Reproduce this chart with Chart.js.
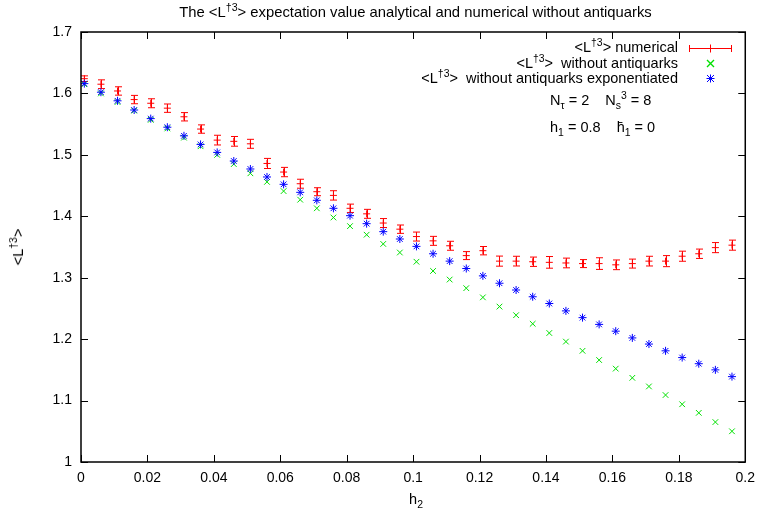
<!DOCTYPE html>
<html>
<head>
<meta charset="utf-8">
<title>Polyakov loop expectation value</title>
<script src="https://cdn.jsdelivr.net/npm/chart.js@4/dist/chart.umd.min.js"></script>
<style>
  body { margin: 0; background: #fff; }
  #wrap { position: relative; width: 763px; height: 513px; font-family: "Liberation Sans", Arial, sans-serif; color: #000; }
  #wrap canvas { position: absolute; left: 0; top: 0; }
  .txt { position: absolute; white-space: nowrap; line-height: 16px; }
  .sup { font-size: 0.72em; position: relative; top: -0.55em; }
  .sub { font-size: 0.72em; position: relative; top: 0.35em; }
  #title { left: 81px; width: 669px; top: 4px; text-align: center; font-size: 14.8px; }
  .leg { right: 85px; font-size: 14.5px; text-align: right; }
  .note { left: 550px; font-size: 14.5px; }
  #ylabel { left: 19px; top: 247px; font-size: 14.5px; transform: translate(-50%, -50%) rotate(-90deg); }
  #xlabel { left: 416px; top: 491px; font-size: 14.5px; transform: translateX(-50%); }
</style>
</head>
<body>
<div id="wrap">
  <canvas id="myChart" width="763" height="513"></canvas>
  <div class="txt" id="title">The &lt;L<span class="sup">&dagger;3</span>&gt; expectation value analytical and numerical without antiquarks</div>
  <div class="txt leg" style="top:39px">&lt;L<span class="sup">&dagger;3</span>&gt; numerical</div>
  <div class="txt leg" style="top:55px">&lt;L<span class="sup">&dagger;3</span>&gt;&nbsp; without antiquarks</div>
  <div class="txt leg" style="top:70px">&lt;L<span class="sup">&dagger;3</span>&gt;&nbsp; without antiquarks exponentiated</div>
  <div class="txt note" style="top:92px">N<span class="sub">&tau;</span> = 2&nbsp;&nbsp;&nbsp; N<span class="sub">s</span><span class="sup">3</span> = 8</div>
  <div class="txt note" style="top:119px">h<span class="sub">1</span> = 0.8&nbsp;&nbsp;&nbsp; h&#772;<span class="sub">1</span> = 0</div>
  <div class="txt" id="ylabel">&lt;L<span class="sup">&dagger;3</span>&gt;</div>
  <div class="txt" id="xlabel">h<span class="sub">2</span></div>
</div>
<script>
'use strict';

// h2 values of the simulation runs
const h2 = [
  0.001, 0.006, 0.011, 0.016, 0.021, 0.026, 0.031, 0.036, 0.041, 0.046,
  0.051, 0.056, 0.061, 0.066, 0.071, 0.076, 0.081, 0.086, 0.091, 0.096,
  0.101, 0.106, 0.111, 0.116, 0.121, 0.126, 0.131, 0.136, 0.141, 0.146,
  0.151, 0.156, 0.161, 0.166, 0.171, 0.176, 0.181, 0.186, 0.191, 0.196
];

// <L^t3> from the simulation, with statistical errors
const numerical = [
  1.624, 1.615, 1.604, 1.590, 1.584, 1.576, 1.562, 1.542, 1.524, 1.522,
  1.518, 1.486, 1.472, 1.453, 1.440, 1.434, 1.413, 1.404, 1.389, 1.379,
  1.367, 1.360, 1.352, 1.336, 1.344, 1.327, 1.327, 1.326, 1.325, 1.324,
  1.323, 1.323, 1.321, 1.323, 1.327, 1.327, 1.335, 1.339, 1.349, 1.353
];
const numericalErr = [
  0.0046, 0.0071, 0.0068, 0.0068, 0.0073, 0.0068, 0.0068, 0.0068, 0.0079, 0.0079,
  0.0073, 0.0082, 0.0076, 0.0073, 0.0065, 0.0076, 0.0068, 0.0073, 0.0073, 0.0068,
  0.0073, 0.0073, 0.0073, 0.0065, 0.0068, 0.0082, 0.0079, 0.0076, 0.0095, 0.0079,
  0.0065, 0.0095, 0.0079, 0.0073, 0.0079, 0.0090, 0.0082, 0.0076, 0.0082, 0.0082
];

// analytical result without antiquarks
const noAntiquarks = [
  1.615, 1.600, 1.586, 1.572, 1.557, 1.543, 1.528, 1.514, 1.500, 1.485,
  1.470, 1.456, 1.441, 1.427, 1.413, 1.398, 1.384, 1.370, 1.355, 1.341,
  1.326, 1.311, 1.297, 1.283, 1.268, 1.253, 1.239, 1.225, 1.210, 1.196,
  1.181, 1.166, 1.152, 1.137, 1.123, 1.109, 1.094, 1.080, 1.065, 1.050
];

// same, exponentiated
const noAntiquarksExp = [
  1.616, 1.602, 1.588, 1.573, 1.559, 1.545, 1.531, 1.517, 1.504, 1.490,
  1.477, 1.464, 1.452, 1.439, 1.426, 1.413, 1.401, 1.388, 1.375, 1.363,
  1.351, 1.339, 1.327, 1.315, 1.303, 1.291, 1.280, 1.269, 1.258, 1.246,
  1.235, 1.224, 1.213, 1.202, 1.192, 1.181, 1.170, 1.160, 1.150, 1.139
];

const xTickValues = [0, 0.02, 0.04, 0.06, 0.08, 0.1, 0.12, 0.14, 0.16, 0.18, 0.2];
const xTickLabels = ['0', '0.02', '0.04', '0.06', '0.08', '0.1', '0.12', '0.14', '0.16', '0.18', '0.2'];
const yTickValues = [1, 1.1, 1.2, 1.3, 1.4, 1.5, 1.6, 1.7];
const yTickLabels = ['1', '1.1', '1.2', '1.3', '1.4', '1.5', '1.6', '1.7'];

const RED = '#ff0000';
const GREEN = '#00e000';
const BLUE = '#0000ff';
const tickFont = { family: '"Liberation Sans", Arial, sans-serif', size: 14 };

function toPoints(ys) {
  return ys.map((y, i) => ({ x: h2[i], y: y }));
}

// vertical error bars with small caps, drawn under the markers
const errorBars = {
  id: 'errorBars',
  beforeDatasetsDraw(chart) {
    const c = chart.ctx;
    const xs = chart.scales.x;
    const ys = chart.scales.y;
    c.save();
    c.strokeStyle = RED;
    c.lineWidth = 1;
    for (let i = 0; i < h2.length; i++) {
      let px = Math.round(xs.getPixelForValue(h2[i])) + 0.5;
      let top = ys.getPixelForValue(numerical[i] + numericalErr[i]);
      let bot = ys.getPixelForValue(numerical[i] - numericalErr[i]);
      c.beginPath();
      c.moveTo(px, top); c.lineTo(px, bot);
      c.moveTo(px - 3.5, top); c.lineTo(px + 3.5, top);
      c.moveTo(px - 3.5, bot); c.lineTo(px + 3.5, bot);
      c.stroke();
    }
    c.restore();
  }
};

// key sample markers
function keyMark(c, style, color, x, y) {
  c.strokeStyle = color;
  c.lineWidth = style === 'x' ? 1.4 : 1;
  c.beginPath();
  if (style === 'plus' || style === 'star') {
    c.moveTo(x - 4, y); c.lineTo(x + 4, y);
    c.moveTo(x, y - 4); c.lineTo(x, y + 4);
  }
  if (style === 'x' || style === 'star') {
    c.moveTo(x - 3.5, y - 3.5); c.lineTo(x + 3.5, y + 3.5);
    c.moveTo(x - 3.5, y + 3.5); c.lineTo(x + 3.5, y - 3.5);
  }
  c.stroke();
}

// border box with inward ticks on all four sides, plus the key samples
const frame = {
  id: 'frame',
  afterDraw(chart) {
    const c = chart.ctx;
    const a = chart.chartArea;
    const xs = chart.scales.x;
    const ys = chart.scales.y;
    const len = 7;
    c.save();
    c.strokeStyle = '#000';
    c.lineWidth = 1;
    c.beginPath();
    xTickValues.forEach(v => {
      let px = Math.round(xs.getPixelForValue(v)) + 0.5;
      c.moveTo(px, a.bottom); c.lineTo(px, a.bottom - len);
      c.moveTo(px, a.top); c.lineTo(px, a.top + len);
    });
    yTickValues.forEach(v => {
      let py = Math.round(ys.getPixelForValue(v)) + 0.5;
      c.moveTo(a.left, py); c.lineTo(a.left + len, py);
      c.moveTo(a.right, py); c.lineTo(a.right - len, py);
    });
    c.stroke();
    c.lineWidth = 1.5;
    c.strokeRect(a.left, a.top, a.right - a.left, a.bottom - a.top);

    c.lineWidth = 1;
    c.strokeStyle = RED;
    c.beginPath();
    c.moveTo(689, 48.5); c.lineTo(732, 48.5);
    c.moveTo(689.5, 45); c.lineTo(689.5, 52);
    c.moveTo(731.5, 45); c.lineTo(731.5, 52);
    c.stroke();
    keyMark(c, 'plus', RED, 710.5, 48.5);
    keyMark(c, 'x', GREEN, 710.5, 63.5);
    keyMark(c, 'star', BLUE, 710.5, 78.5);
    c.restore();
  }
};

const ctx = document.getElementById('myChart').getContext('2d');

const myChart = new Chart(ctx, {
  type: 'scatter',
  data: {
    datasets: [{
      label: 'numerical',
      data: toPoints(numerical),
      pointStyle: 'cross',
      pointRadius: 3.5,
      borderColor: RED,
      backgroundColor: RED,
      borderWidth: 1,
      order: 2
    },
    {
      label: 'without antiquarks',
      data: toPoints(noAntiquarks),
      pointStyle: 'crossRot',
      pointRadius: 4,
      borderColor: GREEN,
      backgroundColor: GREEN,
      borderWidth: 1,
      order: 1
    },
    {
      label: 'without antiquarks exponentiated',
      data: toPoints(noAntiquarksExp),
      pointStyle: 'star',
      pointRadius: 4,
      borderColor: BLUE,
      backgroundColor: BLUE,
      borderWidth: 1,
      order: 0
    }]
  },
  options: {
    responsive: false,
    animation: false,
    devicePixelRatio: 1,
    layout: { padding: { top: 32, right: 13, left: 0, bottom: 0 } },
    plugins: {
      legend: { display: false },
      tooltip: { enabled: false },
      title: { display: false }
    },
    scales: {
      x: {
        type: 'linear',
        min: 0,
        max: 0.2,
        afterBuildTicks(scale) { scale.ticks = xTickValues.map(v => ({ value: v })); },
        afterFit(scale) { scale.height = 51; },
        grid: { display: false, drawTicks: false },
        border: { display: false },
        ticks: {
          color: '#000',
          font: tickFont,
          padding: 8,
          maxRotation: 0,
          autoSkip: false,
          callback: (v, i) => xTickLabels[i]
        }
      },
      y: {
        type: 'linear',
        min: 1,
        max: 1.7,
        afterBuildTicks(scale) { scale.ticks = yTickValues.map(v => ({ value: v })); },
        afterFit(scale) { scale.width = 81; },
        grid: { display: false, drawTicks: false },
        border: { display: false },
        ticks: {
          color: '#000',
          font: tickFont,
          padding: 9,
          autoSkip: false,
          callback: (v, i) => yTickLabels[i]
        }
      }
    }
  },
  plugins: [errorBars, frame]
});
</script>
</body>
</html>
